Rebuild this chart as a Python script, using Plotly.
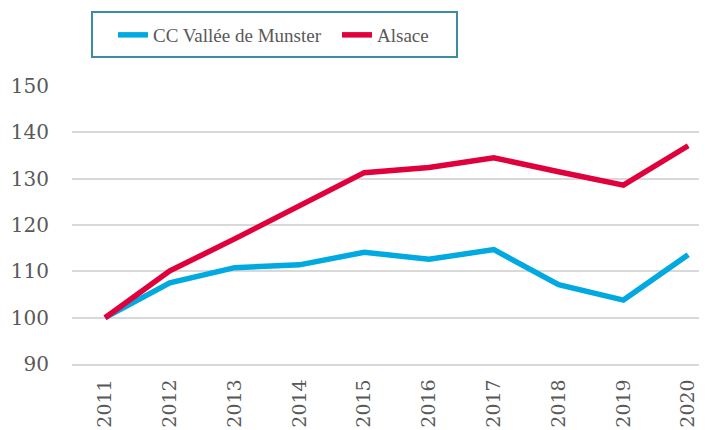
import plotly.graph_objects as go

years = ["2011", "2012", "2013", "2014", "2015", "2016", "2017", "2018", "2019", "2020"]
munster = [100, 107.5, 110.8, 111.4, 114.1, 112.6, 114.7, 107.1, 103.8, 113.6]
alsace = [100, 110.1, 117.0, 124.3, 131.3, 132.4, 134.5, 131.5, 128.6, 137.1]
yticks = [90, 100, 110, 120, 130, 140, 150]

# page body has an 8px margin, so the figure is sized/offset accordingly
W, H = 699, 422
ML, MR, MT, MB = 64, 0, 78, 66
pw = W - ML - MR
ph = H - MT - MB
pb = H - MB  # plot bottom in figure px

fig = go.Figure()
fig.add_trace(go.Scatter(x=list(range(len(years))), y=munster, mode="lines",
                         name="CC Vallée de Munster",
                         line=dict(color="#00A9E0", width=5.5)))
fig.add_trace(go.Scatter(x=list(range(len(years))), y=alsace, mode="lines",
                         name="Alsace",
                         line=dict(color="#E0003C", width=5.5)))

# legend box
fig.add_shape(type="rect", xref="paper", yref="paper",
              x0=(84 - ML) / pw, x1=(449 - ML) / pw,
              y0=(pb - 49) / ph, y1=(pb - 4) / ph,
              line=dict(color="#3E8BA6", width=2), fillcolor="rgba(0,0,0,0)")

fig.update_layout(
    width=W, height=H,
    margin=dict(l=ML, r=MR, t=MT, b=MB, autoexpand=False),
    paper_bgcolor="white", plot_bgcolor="white",
    font=dict(family="DejaVu Serif", color="#595959", size=20),
    legend=dict(orientation="h", xref="paper", yref="paper",
                x=(105 - ML) / pw, y=(pb - 8) / ph,
                xanchor="left", yanchor="top",
                font=dict(family="Liberation Serif", size=19, color="#595959"),
                bgcolor="rgba(0,0,0,0)", borderwidth=0,
                entrywidth=179, traceorder="normal"),
    showlegend=True,
    xaxis=dict(range=[-0.51, 9.29], tickmode="array",
               tickvals=list(range(len(years))), ticktext=years,
               tickangle=-90, showgrid=False, zeroline=False,
               showline=True, linecolor="#D9D9D9", linewidth=1.5,
               ticks="", ticklabelstandoff=6, automargin=False,
               tickfont=dict(family="DejaVu Serif", size=19, color="#595959")),
    yaxis=dict(range=[90, 150], tickmode="array", tickvals=yticks,
               showgrid=True, gridcolor="#D9D9D9", gridwidth=1.5,
               zeroline=False, showline=False, ticks="",
               ticklabelstandoff=22, automargin=False,
               tickfont=dict(family="DejaVu Serif", size=20, color="#595959")),
)

fig.write_html("out.html")
